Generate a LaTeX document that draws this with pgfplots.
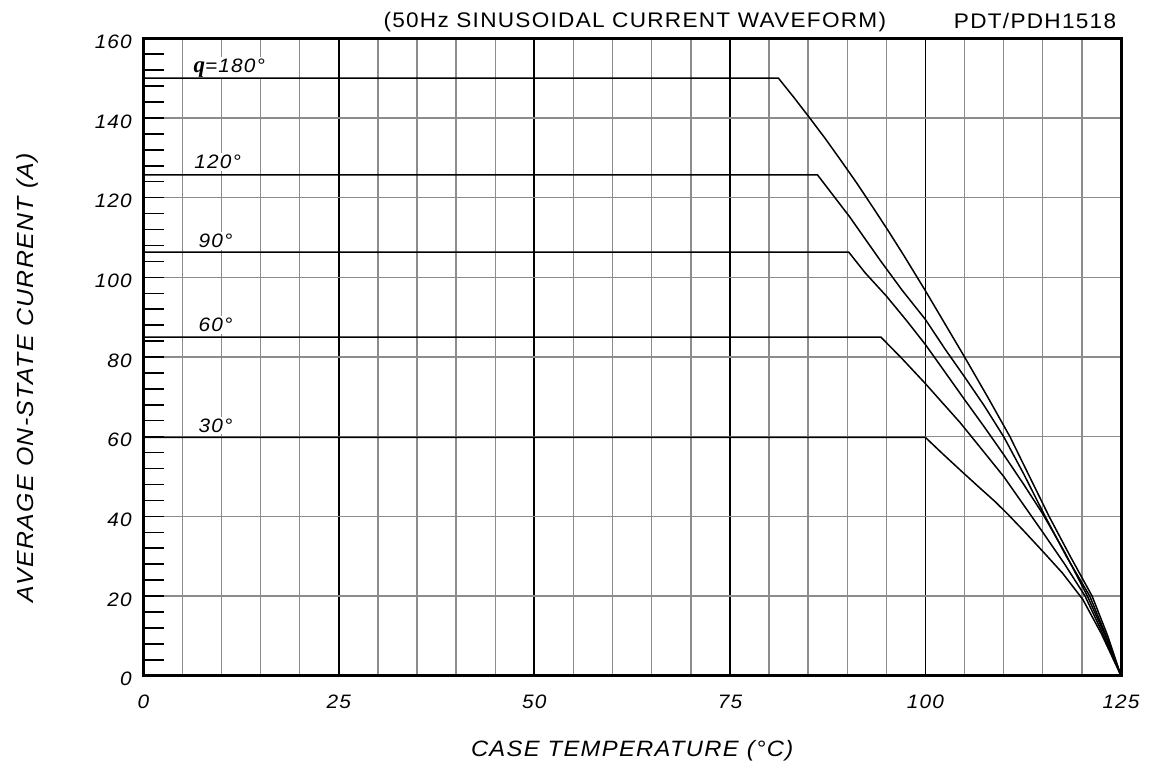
\documentclass[border=0pt]{standalone}
\usepackage{fontspec}
\setmainfont{Liberation Sans}
\newfontfamily\lsf[LetterSpace=6, FakeStretch=1.07]{Liberation Sans}
\newfontfamily\qfont{Liberation Serif}
\usepackage{pgfplots}
\pgfplotsset{compat=1.18}
\definecolor{gridgray}{RGB}{140,140,140}

\begin{document}
\begin{tikzpicture}
\begin{axis}[
  set layers,
  at={(0,0)}, anchor=south west,
  width=977.7bp, height=637.4bp, scale only axis,
  xmin=0, xmax=125, ymin=0, ymax=160,
  axis line style={line width=3bp},
  xtick={0,25,50,75,100,125},
  minor xtick={5,10,15,20,30,35,40,45,55,60,65,70,80,85,90,95,105,110,115,120},
  ytick={0,20,...,160},
  minor ytick={4,8,...,156},
  xmajorgrids, xminorgrids, ymajorgrids,
  major x grid style={black, line width=1.8bp},
  minor x grid style={gridgray, line width=1.4bp},
  major y grid style={gridgray, line width=1.4bp},
  tick align=inside,
  ytick pos=left,
  xtick pos=bottom,
  xtick style={draw=none},
  ytick style={black, line width=1.5bp},
  major tick length=20.7bp, minor tick length=20.7bp,
  /pgf/number format/assume math mode=true,
  tick label style={font=\lsf\itshape\fontsize{19.5}{22}\selectfont},
  yticklabel style={xshift=-8bp, yshift=-3.5bp},
  xticklabel style={yshift=-16bp},
  xlabel={CASE TEMPERATURE (°C)},
  ylabel={AVERAGE ON-STATE CURRENT (A)},
  xlabel style={at={(axis description cs:0.5,-0.1271)}, anchor=base, font=\lsf\itshape\fontsize{22.3}{25}\selectfont},
  ylabel style={at={(axis description cs:-0.1128,0.4678)}, anchor=base, font=\lsf\itshape\fontsize{23.3}{26}\selectfont},
]
\begin{pgfonlayer}{pre main}
\node[fill=white, inner sep=2bp, anchor=base west, font=\lsf\itshape\fontsize{19.5}{22}\selectfont] at (axis cs:6.15,151.4) {{\qfont\bfseries\itshape\fontsize{23}{24}\selectfont q}=180°};
\node[fill=white, inner sep=2bp, anchor=base west, font=\lsf\itshape\fontsize{19.5}{22}\selectfont] at (axis cs:6.25,127.2) {120°};
\node[fill=white, inner sep=2bp, anchor=base west, font=\lsf\itshape\fontsize{19.5}{22}\selectfont] at (axis cs:6.8,107.4) {90°};
\node[fill=white, inner sep=2bp, anchor=base west, font=\lsf\itshape\fontsize{19.5}{22}\selectfont] at (axis cs:6.8,86.4) {60°};
\node[fill=white, inner sep=2bp, anchor=base west, font=\lsf\itshape\fontsize{19.5}{22}\selectfont] at (axis cs:6.8,61.1) {30°};
\end{pgfonlayer}

% theta = 180
\addplot[black, line width=1.5bp] coordinates {
(0,150) (81.2,150) (83.2,145.1) (85.2,140) (87.2,134.8) (89.2,129.3) (91.2,123.7)
(93.2,117.8) (95.2,111.8) (97.2,105.6) (100,96.6) (102.2,89.3) (105,80) (108,69.8)
(110.8,60) (113.3,50) (115.8,40) (118.5,30) (121.3,20) (123.3,10) (125,0)};
% theta = 120
\addplot[black, line width=1.5bp] coordinates {
(0,125.7) (86.2,125.7) (90.3,115.2) (94.2,104.3) (97,96.8) (100,89.4) (102.5,82)
(105,75) (107.5,67.8) (110,60) (112.6,50.5) (115.3,40) (118,30) (121,20) (123.1,10) (125,0)};
% theta = 90
\addplot[black, line width=1.5bp] coordinates {
(0,106.3) (90.2,106.3) (92.3,101.1) (95,95.3) (97.6,89.1) (100,83.1) (102.5,76.2)
(105,69.3) (107.5,62.5) (110,55.5) (112.5,48.2) (115,40.6) (117.8,31) (120.7,20) (123,10) (125,0)};
% theta = 60
\addplot[black, line width=1.5bp] coordinates {
(0,85) (94.3,85) (97,79.6) (100,73.3) (101.9,69.1) (104.4,63.6) (107,57.3) (110,50)
(112.5,43) (115,36) (117.8,28) (120.4,20) (122.8,10) (125,0)};
% theta = 30
\addplot[black, line width=1.5bp] coordinates {
(0,59.8) (100,59.8) (102.2,55.7) (104.4,51.7) (106.8,47.4) (108.9,43.7) (110.4,40.8)
(112.5,36.5) (115,31.2) (117.5,25.8) (120.1,19.2) (122.5,10.5) (125,0)};
\end{axis}
\node[anchor=base west, inner sep=0pt, font=\lsf\fontsize{21.2}{24}\selectfont] at (240bp,648.4bp) {(50Hz SINUSOIDAL CURRENT WAVEFORM)};
\node[anchor=base east, inner sep=0pt, font=\lsf\fontsize{21.2}{24}\selectfont] at (973bp,646.7bp) {PDT/PDH1518};
\path (-143.3bp,-86.3bp) rectangle (1017.7bp,675.7bp);
\end{tikzpicture}
\end{document}
